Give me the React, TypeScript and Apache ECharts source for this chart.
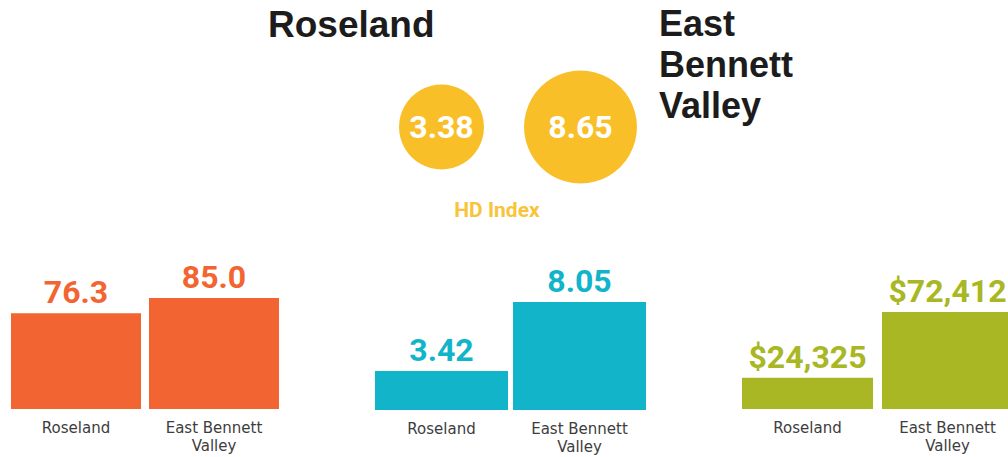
import React, { useEffect, useRef } from "react";
import * as echarts from "echarts";

const categories = ["Roseland", "East Bennett\nValley"];
const places = ["Roseland", "East Bennett\nValley"];
const lifeExpectancy = [76.3, 85.0];
const education = [3.42, 8.05];
const income = [24325, 72412];
const hdIndex = [3.38, 8.65];
const hdLabel = "HD Index";
const titleLeft = "Roseland";
const titleRightLines = ["East", "Bennett", "Valley"];

const ORANGE = "#F26532";
const BLUE = "#12B4C9";
const GREEN = "#A8B723";
const YELLOW = "#F9BF29";

export default function App() {
  const ref = useRef<HTMLDivElement>(null);
  useEffect(() => {
    const chart = echarts.init(ref.current!, null, { renderer: "svg" });
    const catAxis = (gridIndex: number) => ({
      type: "category",
      gridIndex,
      data: categories,
      axisLine: { show: false },
      axisTick: { show: false },
      axisLabel: {
        margin: 10,
        fontSize: 15,
        lineHeight: 18,
        color: "#3d3d3d",
        fontFamily: "DejaVu Sans",
      },
    });
    const valAxis = (gridIndex: number, min: number, max: number) => ({
      type: "value",
      gridIndex,
      min,
      max,
      show: false,
    });
    const barLabel = (color: string, fmt: (v: number) => string) => ({
      show: true,
      position: "top",
      distance: 5,
      color,
      fontSize: 32,
      fontWeight: "bold",
      fontFamily: "Roboto",
      formatter: (p: any) => fmt(p.value),
    });
    const titleStyle = {
      fontSize: 36,
      fontWeight: "bold",
      fontFamily: "Liberation Sans",
      fill: "#1c1c1c",
    };
    chart.setOption({
      animation: false,
      backgroundColor: "#ffffff",
      grid: [
        { left: 7, width: 276, top: 298, bottom: 48 },
        { left: 372.5, width: 276, top: 302, bottom: 47 },
        { left: 737.5, width: 280, top: 312, bottom: 48 },
        { left: 372, width: 278, top: 77, height: 100 },
      ],
      xAxis: [
        catAxis(0),
        catAxis(1),
        catAxis(2),
        { type: "category", gridIndex: 3, data: places, show: false },
      ],
      yAxis: [
        valAxis(0, 21.2, 85),
        valAxis(1, 0.8, 8.05),
        valAxis(2, 1400, 72412),
        valAxis(3, -1, 1),
      ],
      series: [
        {
          type: "bar",
          xAxisIndex: 0,
          yAxisIndex: 0,
          data: lifeExpectancy,
          barWidth: 130,
          itemStyle: { color: ORANGE },
          label: barLabel(ORANGE, (v) => v.toFixed(1)),
        },
        {
          type: "bar",
          xAxisIndex: 1,
          yAxisIndex: 1,
          data: education,
          barWidth: 133,
          itemStyle: { color: BLUE },
          label: barLabel(BLUE, (v) => v.toFixed(2)),
        },
        {
          type: "bar",
          xAxisIndex: 2,
          yAxisIndex: 2,
          data: income,
          barWidth: 131,
          itemStyle: { color: GREEN },
          label: barLabel(GREEN, (v) => "$" + v.toLocaleString("en-US")),
        },
        {
          type: "scatter",
          xAxisIndex: 3,
          yAxisIndex: 3,
          data: hdIndex.map((v, i) => ({ value: [i, 0, v] })),
          symbolSize: (val: number[]) => 67 + 5.31 * val[2],
          itemStyle: { color: YELLOW, opacity: 1 },
          label: {
            show: true,
            position: "inside",
            color: "#ffffff",
            fontSize: 32,
            fontWeight: "bold",
            fontFamily: "Roboto",
            formatter: (p: any) => p.value[2].toFixed(2),
          },
        },
      ],
      graphic: [
        {
          type: "text",
          left: 268,
          top: 6,
          style: { ...titleStyle, text: titleLeft, fontSize: 37 },
        },
        ...titleRightLines.map((t, i) => ({
          type: "text",
          left: 659,
          top: 5 + i * 41,
          style: { ...titleStyle, text: t },
        })),
        {
          type: "text",
          x: 497,
          y: 210,
          style: {
            text: hdLabel,
            fontSize: 21,
            fontWeight: "bold",
            fontFamily: "Roboto",
            fill: "#F8C43A",
            align: "center",
            verticalAlign: "middle",
          },
        },
      ],
    });
    return () => chart.dispose();
  }, []);
  return (
    <div
      ref={ref}
      style={{ position: "fixed", left: 0, top: 0, width: 1024, height: 457 }}
    />
  );
}
